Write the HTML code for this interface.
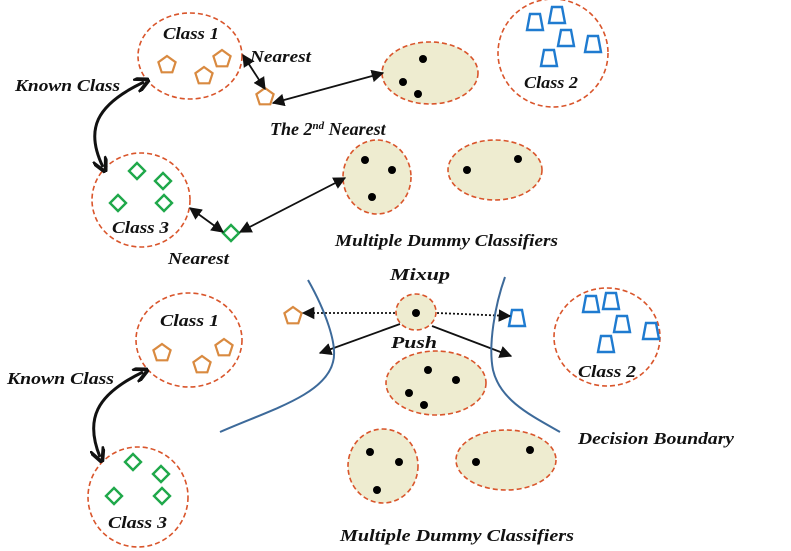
<!DOCTYPE html>
<html><head><meta charset="utf-8"><style>
html,body{margin:0;padding:0;background:#fff;}
svg{display:block;}
text{font-family:"Liberation Serif",serif;font-style:italic;font-weight:bold;font-size:17px;fill:#111;}
</style></head><body>
<svg width="791" height="551" viewBox="0 0 791 551" xmlns="http://www.w3.org/2000/svg">
<defs>
<g id="pent"><polygon points="0,-9 8.6,-2.8 5.3,7.3 -5.3,7.3 -8.6,-2.8" fill="none" stroke="#d98a40" stroke-width="2.2"/></g>
<g id="dia"><polygon points="0,-8 8,0 0,8 -8,0" fill="none" stroke="#1fa84a" stroke-width="2.4"/></g>
<g id="trap"><polygon points="-5,-8 5,-8 8,8 -8,8" fill="none" stroke="#1f7bd0" stroke-width="2.4"/></g>
<marker id="ah" viewBox="0 0 10 10" refX="9" refY="5" markerWidth="7" markerHeight="7" orient="auto-start-reverse"><path d="M0,0 L10,5 L0,10 z" fill="#111"/></marker>
<marker id="ahb" viewBox="0 0 10 10" refX="6" refY="5" markerWidth="5" markerHeight="5" orient="auto-start-reverse"><path d="M0,0 L10,5 L0,10" fill="none" stroke="#111" stroke-width="2.5"/></marker>
</defs>
<g fill="none" stroke="#d9552b" stroke-width="1.6" stroke-dasharray="5,3">
<ellipse cx="190" cy="56" rx="52" ry="43"/>
<ellipse cx="553" cy="53" rx="55" ry="54"/>
<ellipse cx="141" cy="200" rx="49" ry="47"/>
<ellipse cx="189" cy="340" rx="53" ry="47"/>
<ellipse cx="607" cy="337" rx="53" ry="49"/>
<ellipse cx="138" cy="497" rx="50" ry="50"/>
</g>
<g fill="#eeecd0" stroke="#d9552b" stroke-width="1.6" stroke-dasharray="5,3">
<ellipse cx="430" cy="73" rx="48" ry="31"/>
<ellipse cx="377" cy="177" rx="34" ry="37"/>
<ellipse cx="495" cy="170" rx="47" ry="30"/>
<ellipse cx="416" cy="312" rx="20" ry="18"/>
<ellipse cx="436" cy="383" rx="50" ry="32"/>
<ellipse cx="383" cy="466" rx="35" ry="37"/>
<ellipse cx="506" cy="460" rx="50" ry="30"/>
</g>
<g fill="#000">
<circle cx="423" cy="59" r="4"/><circle cx="403" cy="82" r="4"/><circle cx="418" cy="94" r="4"/>
<circle cx="365" cy="160" r="4"/><circle cx="392" cy="170" r="4"/><circle cx="372" cy="197" r="4"/>
<circle cx="467" cy="170" r="4"/><circle cx="518" cy="159" r="4"/>
<circle cx="416" cy="313" r="4"/>
<circle cx="428" cy="370" r="4"/><circle cx="456" cy="380" r="4"/><circle cx="409" cy="393" r="4"/><circle cx="424" cy="405" r="4"/>
<circle cx="370" cy="452" r="4"/><circle cx="399" cy="462" r="4"/><circle cx="377" cy="490" r="4"/>
<circle cx="476" cy="462" r="4"/><circle cx="530" cy="450" r="4"/>
</g>
<use href="#pent" x="167" y="65"/><use href="#pent" x="204" y="76"/><use href="#pent" x="222" y="59"/><use href="#pent" x="265" y="97"/>
<use href="#pent" x="162" y="353"/><use href="#pent" x="202" y="365"/><use href="#pent" x="224" y="348"/><use href="#pent" x="293" y="316"/>
<use href="#dia" x="137" y="171"/><use href="#dia" x="163" y="181"/><use href="#dia" x="118" y="203"/><use href="#dia" x="164" y="203"/><use href="#dia" x="231" y="233"/>
<use href="#dia" x="133" y="462"/><use href="#dia" x="161" y="474"/><use href="#dia" x="114" y="496"/><use href="#dia" x="162" y="496"/>
<use href="#trap" x="535" y="22"/><use href="#trap" x="557" y="15"/><use href="#trap" x="566" y="38"/><use href="#trap" x="593" y="44"/><use href="#trap" x="549" y="58"/>
<use href="#trap" x="591" y="304"/><use href="#trap" x="611" y="301"/><use href="#trap" x="622" y="324"/><use href="#trap" x="651" y="331"/><use href="#trap" x="606" y="344"/>
<use href="#trap" x="517" y="318"/>
<g stroke="#111" stroke-width="1.8" fill="none">
<line x1="243" y1="55" x2="265" y2="89" marker-start="url(#ah)" marker-end="url(#ah)"/>
<line x1="273" y1="103" x2="383" y2="73" marker-start="url(#ah)" marker-end="url(#ah)"/>
<line x1="190" y1="208" x2="223" y2="232" marker-start="url(#ah)" marker-end="url(#ah)"/>
<line x1="240" y1="232" x2="345" y2="178" marker-start="url(#ah)" marker-end="url(#ah)"/>
<line x1="400" y1="324" x2="320" y2="353" marker-end="url(#ah)"/>
<line x1="432" y1="326" x2="511" y2="356" marker-end="url(#ah)"/>
<line x1="395" y1="313" x2="303" y2="313" stroke-dasharray="2,2" marker-end="url(#ah)"/>
<line x1="437" y1="313" x2="510" y2="316" stroke-dasharray="2,2" marker-end="url(#ah)"/>
</g>
<g stroke="#111" stroke-width="3" fill="none">
<path d="M144,82 C95,105 85,130 103,167" marker-start="url(#ahb)" marker-end="url(#ahb)"/>
<path d="M143,372 C95,395 85,420 100,457" marker-start="url(#ahb)" marker-end="url(#ahb)"/>
</g>
<g stroke="#3d6a9a" stroke-width="2" fill="none">
<path d="M308,280 C325,310 338,345 333,362 C325,395 270,410 220,432"/>
<path d="M505,277 C495,305 488,345 493,370 C500,400 530,415 560,432"/>
</g>
<text x="163" y="39" textLength="56" lengthAdjust="spacingAndGlyphs">Class 1</text>
<text x="250" y="62" textLength="61" lengthAdjust="spacingAndGlyphs">Nearest</text>
<text x="15" y="91" textLength="105" lengthAdjust="spacingAndGlyphs">Known Class</text>
<text x="524" y="88" textLength="54" lengthAdjust="spacingAndGlyphs">Class 2</text>
<text x="270" y="135" style="font-size:18px">The 2<tspan font-size="11" dy="-6">nd</tspan><tspan dy="6"> Nearest</tspan></text>
<text x="112" y="233" textLength="57" lengthAdjust="spacingAndGlyphs">Class 3</text>
<text x="168" y="264" textLength="61" lengthAdjust="spacingAndGlyphs">Nearest</text>
<text x="335" y="246" textLength="223" lengthAdjust="spacingAndGlyphs">Multiple Dummy Classifiers</text>
<text x="390" y="280" textLength="60" lengthAdjust="spacingAndGlyphs">Mixup</text>
<text x="391" y="348" textLength="46" lengthAdjust="spacingAndGlyphs">Push</text>
<text x="160" y="326" textLength="59" lengthAdjust="spacingAndGlyphs">Class 1</text>
<text x="7" y="384" textLength="107" lengthAdjust="spacingAndGlyphs">Known Class</text>
<text x="578" y="377" textLength="58" lengthAdjust="spacingAndGlyphs">Class 2</text>
<text x="578" y="444" textLength="156" lengthAdjust="spacingAndGlyphs">Decision Boundary</text>
<text x="108" y="528" textLength="59" lengthAdjust="spacingAndGlyphs">Class 3</text>
<text x="340" y="541" textLength="234" lengthAdjust="spacingAndGlyphs">Multiple Dummy Classifiers</text>
</svg>
</body></html>
